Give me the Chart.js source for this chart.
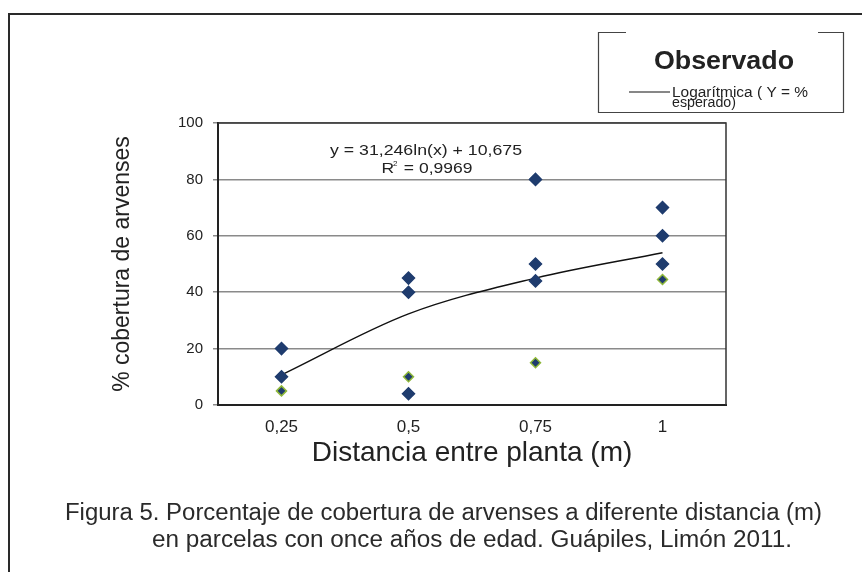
<!DOCTYPE html>
<html>
<head>
<meta charset="utf-8">
<script src="https://cdn.jsdelivr.net/npm/chart.js@4/dist/chart.umd.min.js"></script>
<style>
  html, body { margin: 0; padding: 0; background: #fff; }
  #wrap { width: 862px; height: 572px; }
</style>
</head>
<body>
<div id="wrap"><canvas id="grafico" width="862" height="572"></canvas></div>
<script>
// datos
var distancias = ['0,25', '0,5', '0,75', '1'];
var observadoA = [20, 45, 80, 70];
var observadoB = [10, 40, 50, 60];
var observadoC = [null, 4, 44, 50];
var esperado = [5, 10, 15, 44.5];
var tendencia = [10.7, 32.3, 45, 54];

var ecuacion = 'y = 31,246ln(x) + 10,675';
var r2 = '0,9969';
var pieFigura = [
  'Figura 5. Porcentaje de cobertura de arvenses a diferente distancia (m)',
  'en parcelas con once años de edad. Guápiles, Limón 2011.'
];

var azul = '#1f3c6e';
var verde = '#8fb83a';
var fuente = '"Liberation Sans", Arial, sans-serif';

function puntos(datos, borde, radio) {
  return {
    data: datos,
    showLine: false,
    pointStyle: 'rectRot',
    pointRadius: radio,
    pointBackgroundColor: azul,
    pointBorderColor: borde,
    pointBorderWidth: 1.5,
    order: 1
  };
}

// texto ajustado a un ancho dado
function texto(c, str, x, y, ancho, alinear) {
  var w = c.measureText(str).width;
  c.save();
  c.translate(x, y);
  c.scale(ancho / w, 1);
  c.textAlign = alinear;
  c.fillText(str, 0, 0);
  c.restore();
}

// marco, caja del area, leyenda, ecuacion y pie
var extras = {
  id: 'extras',
  beforeDraw: function(chart) {
    var c = chart.ctx;
    c.save();
    c.fillStyle = '#fff';
    c.fillRect(0, 0, chart.width, chart.height);
    c.restore();
  },
  afterDraw: function(chart) {
    var c = chart.ctx, a = chart.chartArea;
    c.save();
    // caja del area de trazado
    c.strokeStyle = '#333';
    c.lineWidth = 1.5;
    c.beginPath();
    c.moveTo(a.left, a.top); c.lineTo(a.right, a.top); c.lineTo(a.right, a.bottom);
    c.stroke();
    // marco exterior
    c.strokeStyle = '#2a2a2a';
    c.lineWidth = 2;
    c.beginPath();
    c.moveTo(9, 572); c.lineTo(9, 14); c.lineTo(862, 14);
    c.stroke();
    // leyenda
    c.strokeStyle = '#444';
    c.lineWidth = 1.2;
    c.beginPath();
    c.moveTo(626, 32.5); c.lineTo(598.5, 32.5); c.lineTo(598.5, 112.5);
    c.lineTo(843.5, 112.5); c.lineTo(843.5, 32.5); c.lineTo(818, 32.5);
    c.stroke();
    c.fillStyle = '#222';
    c.textBaseline = 'alphabetic';
    c.font = 'bold 25px ' + fuente;
    texto(c, 'Observado', 724, 69, 140, 'center');
    c.strokeStyle = '#111';
    c.lineWidth = 1.2;
    c.beginPath();
    c.moveTo(629, 92); c.lineTo(670, 92);
    c.stroke();
    c.font = '14px ' + fuente;
    texto(c, 'Logarítmica ( Y = %', 672, 97, 136, 'left');
    texto(c, 'esperado)', 672, 107, 64, 'left');
    // ecuacion
    c.font = '15px ' + fuente;
    texto(c, ecuacion, 426, 155, 192, 'center');
    texto(c, 'R  = ' + r2, 427, 173, 91, 'center');
    c.font = '8px ' + fuente;
    c.textAlign = 'left';
    c.fillText('2', 393, 166);
    // pie de figura
    c.font = '23px ' + fuente;
    c.fillStyle = '#2a2a2a';
    texto(c, pieFigura[0], 65, 520, 757, 'left');
    texto(c, pieFigura[1], 152, 547, 640, 'left');
    c.restore();
  }
};

new Chart(document.getElementById('grafico').getContext('2d'), {
  type: 'line',
  data: {
    labels: distancias,
    datasets: [
      puntos(observadoA, azul, 6),
      puntos(observadoB, azul, 6),
      puntos(observadoC, azul, 6),
      puntos(esperado, verde, 5),
      {
        data: tendencia,
        borderColor: '#111',
        borderWidth: 1.4,
        pointRadius: 0,
        cubicInterpolationMode: 'monotone',
        fill: false,
        order: 2
      }
    ]
  },
  options: {
    responsive: false,
    animation: false,
    layout: { padding: { left: 100, top: 123, right: 136, bottom: 98 } },
    plugins: { legend: { display: false }, tooltip: { enabled: false } },
    scales: {
      x: {
        offset: true,
        grid: { display: false, drawTicks: false },
        border: { display: true, color: '#222', width: 2 },
        ticks: { padding: 12, color: '#222', font: { family: fuente, size: 17 } },
        title: {
          display: true,
          text: 'Distancia entre planta (m)',
          color: '#222',
          font: { family: fuente, size: 28 },
          padding: { top: 4, bottom: 4 }
        },
        afterFit: function(s) { s.height = 69; }
      },
      y: {
        min: 0,
        max: 100,
        ticks: { stepSize: 20, padding: 10, color: '#222', font: { family: fuente, size: 15 } },
        grid: { color: '#8a8a8a', lineWidth: 1.5, tickLength: 5, tickColor: '#8a8a8a' },
        border: { display: true, color: '#222', width: 2 },
        title: {
          display: true,
          text: '% cobertura de arvenses',
          color: '#222',
          font: { family: fuente, size: 23 },
          padding: { top: 9, bottom: 4 }
        },
        afterFit: function(s) { s.width = 118; }
      }
    }
  },
  plugins: [extras]
});
</script>
</body>
</html>
